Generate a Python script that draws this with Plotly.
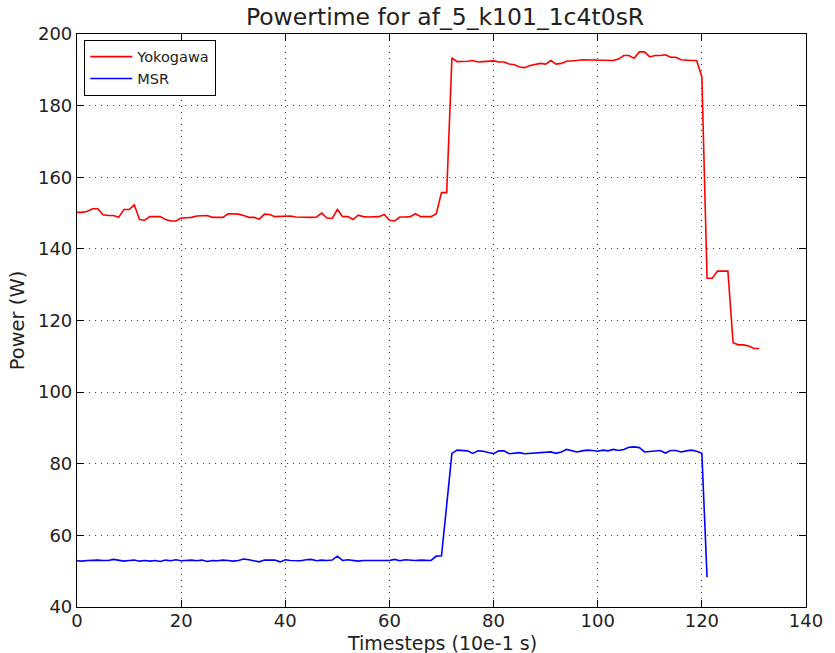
import plotly.graph_objects as go

yoko_x = list(range(0, 132))
yoko_y = [150.2, 150.2, 150.5, 151.2, 151.2, 149.5, 149.3, 149.3, 148.8, 151.0,
          151.0, 152.3, 148.2, 148.0, 149.0, 149.0, 149.0, 148.2, 147.8, 147.8,
          148.6, 148.7, 148.8, 149.2, 149.3, 149.3, 148.8, 148.8, 148.8, 149.8,
          149.8, 149.7, 149.3, 148.8, 148.8, 148.3, 149.7, 149.6, 149.0, 149.0,
          149.0, 149.2, 148.9, 148.8, 148.8, 148.8, 148.9, 150.0, 148.6, 148.5,
          151.0, 149.0, 149.0, 148.2, 149.4, 149.0, 148.9, 149.0, 149.0, 149.6,
          148.0, 147.8, 148.9, 148.9, 149.0, 149.8, 149.0, 149.0, 149.0, 149.8,
          155.7, 155.7, 193.3, 192.3, 192.3, 192.4, 192.6, 192.2, 192.3, 192.5,
          192.5, 192.2, 192.2, 191.6, 191.4, 190.8, 190.6, 191.2, 191.6, 191.8,
          191.6, 192.6, 191.6, 191.8, 192.4, 192.4, 192.6, 192.8, 192.8, 192.7,
          192.7, 192.8, 192.6, 192.6, 193.0, 194.0, 194.0, 193.2, 195.0, 195.0,
          193.6, 194.0, 194.0, 194.2, 193.5, 193.5, 192.8, 192.6, 192.6, 192.6,
          188.0, 131.8, 131.8, 133.8, 133.8, 133.8, 113.8, 113.2, 113.2, 112.9,
          112.2, 112.2]

msr_x = list(range(0, 122))
msr_y = [52.9, 52.8, 53.0, 53.1, 53.1, 53.0, 53.0, 53.3, 53.1, 52.8,
         53.0, 53.1, 52.8, 53.0, 52.8, 53.0, 52.7, 53.1, 52.9, 53.2,
         52.9, 53.0, 53.1, 52.9, 53.1, 52.7, 53.0, 52.9, 53.1, 53.0,
         52.8, 53.0, 53.4, 53.2, 53.0, 52.6, 53.1, 53.0, 53.1, 52.6,
         53.2, 53.0, 53.0, 52.9, 53.2, 53.3, 52.9, 53.1, 53.0, 53.1,
         54.2, 53.0, 53.2, 53.0, 52.8, 53.0, 53.0, 52.8, 53.0, 53.0,
         53.0, 53.3, 52.9, 53.2, 53.0, 53.0, 53.1, 53.0, 53.0, 54.2,
         54.3, 68.5, 82.9, 83.8, 83.6, 83.6, 82.9, 83.6, 83.5, 83.2,
         82.8, 83.6, 83.6, 82.8, 83.0, 83.1, 82.8, 82.9, 83.2, 83.3,
         83.2, 83.3, 82.9, 83.3, 84.0, 83.7, 83.3, 83.6, 83.8, 83.7,
         83.5, 83.8, 83.6, 84.0, 83.7, 84.0, 84.6, 84.7, 84.5, 83.3,
         83.5, 83.7, 83.7, 83.0, 83.7, 83.7, 83.3, 83.6, 83.8, 83.5,
         82.9, 48.3]

x_ticks = [0, 20, 40, 60, 80, 100, 120, 140]
y_ticks = [40, 60, 80, 100, 120, 140, 160, 180, 200]

fig = go.Figure()
fig.add_trace(go.Scatter(x=yoko_x, y=yoko_y, mode="lines", name="Yokogawa",
                         line=dict(color="#ff0000", width=1.6)))
fig.add_trace(go.Scatter(x=msr_x, y=msr_y, mode="lines", name="MSR",
                         line=dict(color="#0000ff", width=1.6)))

axis_common = dict(
    showline=True, linecolor="black", linewidth=1.2, mirror="allticks",
    ticks="inside", ticklen=7, tickcolor="black",
    showgrid=True, gridcolor="#444444", griddash="1px,5px", gridwidth=1,
    zeroline=False, tickfont=dict(size=18, color="#222222"),
)

fig.update_layout(
    width=835, height=653,
    margin=dict(l=77, r=22, t=34, b=46),
    paper_bgcolor="white", plot_bgcolor="white",
    font=dict(family="DejaVu Sans", color="#222222"),
    title=dict(text="Powertime for af_5_k101_1c4t0sR", x=0.533, xanchor="center",
               y=0.974, yanchor="middle", font=dict(size=23.5, color="#222222")),
    xaxis=dict(range=[0, 140], tickvals=x_ticks, ticklabelstandoff=-3, **axis_common),
    yaxis=dict(range=[40, 200], tickvals=y_ticks,
               title=dict(text="Power (W)", font=dict(size=19.5), standoff=8),
               **axis_common),
    legend=dict(x=0.01, y=0.99, xanchor="left", yanchor="top",
                bgcolor="white", bordercolor="black", borderwidth=1,
                itemwidth=42,
                font=dict(size=14.5, color="#222222"), tracegroupgap=0),
    showlegend=True,
    annotations=[dict(text="Timesteps (10e-1 s)", xref="paper", yref="paper",
                      x=0.5, y=-0.0625, xanchor="center", yanchor="middle",
                      showarrow=False, font=dict(size=19, color="#222222"))],
)

fig.write_html("out.html")
